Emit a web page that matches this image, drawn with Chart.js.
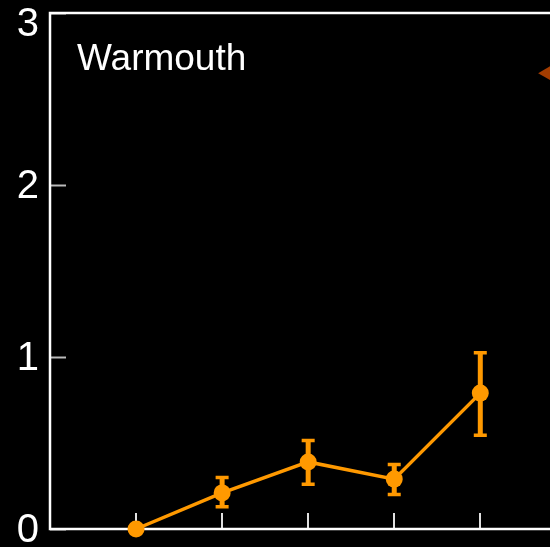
<!DOCTYPE html>
<html>
<head>
<meta charset="utf-8">
<script src="https://cdn.jsdelivr.net/npm/chart.js@4/dist/chart.umd.min.js"></script>
<style>
  html, body { margin: 0; padding: 0; background: #000; }
  #wrap { width: 550px; height: 547px; }
</style>
</head>
<body>
<div id="wrap"><canvas id="myChart" width="550" height="547"></canvas></div>
<script>
// Data
const xPositions = [1, 2, 3, 4, 5];
const means = [0, 0.21, 0.39, 0.29, 0.79];
const errLow = [0, 0.13, 0.26, 0.20, 0.545];
const errHigh = [0, 0.30, 0.515, 0.375, 1.025];
const yTicks = [0, 1, 2, 3];
const panelTitle = 'Warmouth';
// second series, only its marker shows at the right edge
const otherX = [5.8];
const otherY = [2.65];

const FONT = '"Liberation Sans", Arial, sans-serif';

// frame, inward ticks, tick labels, error bars and panel label
const decorations = {
    id: 'decorations',
    beforeDatasetsDraw(chart) {
        const { ctx, chartArea, scales } = chart;
        const x = scales.x, y = scales.y;
        ctx.save();

        // inward ticks on x axis
        ctx.strokeStyle = '#e0e0e0';
        ctx.lineWidth = 2;
        xPositions.forEach(v => {
            const px = Math.round(x.getPixelForValue(v));
            ctx.beginPath();
            ctx.moveTo(px, chartArea.bottom);
            ctx.lineTo(px, chartArea.bottom - 16);
            ctx.stroke();
        });
        // inward ticks on y axis
        ctx.strokeStyle = '#bbbbbb';
        yTicks.forEach(v => {
            const py = Math.round(y.getPixelForValue(v)) + 0.5;
            ctx.beginPath();
            ctx.moveTo(chartArea.left, py);
            ctx.lineTo(chartArea.left + 16, py);
            ctx.stroke();
        });

        // frame: left, bottom, top
        ctx.strokeStyle = '#ffffff';
        ctx.lineWidth = 2.5;
        ctx.beginPath();
        ctx.moveTo(chartArea.right + 5, chartArea.top);
        ctx.lineTo(chartArea.left, chartArea.top);
        ctx.lineTo(chartArea.left, chartArea.bottom);
        ctx.lineTo(chartArea.right + 5, chartArea.bottom);
        ctx.stroke();

        // y tick labels
        ctx.fillStyle = '#ffffff';
        ctx.font = '40px ' + FONT;
        ctx.textAlign = 'right';
        ctx.textBaseline = 'middle';
        yTicks.forEach(v => {
            let py = y.getPixelForValue(v) + 2;
            py = Math.max(py, 25);
            ctx.fillText(String(v), 39, py);
        });

        // panel label
        ctx.textAlign = 'left';
        ctx.textBaseline = 'alphabetic';
        ctx.font = '37px ' + FONT;
        ctx.fillText(panelTitle, 77, 70);

        // error bars
        ctx.strokeStyle = '#ff9900';
        for (let i = 0; i < xPositions.length; i++) {
            if (errHigh[i] - errLow[i] <= 0) continue;
            const px = x.getPixelForValue(xPositions[i]);
            const top = y.getPixelForValue(errHigh[i]);
            const bot = y.getPixelForValue(errLow[i]);
            ctx.lineWidth = 5;
            ctx.beginPath();
            ctx.moveTo(px, top);
            ctx.lineTo(px, bot);
            ctx.stroke();
            ctx.lineWidth = 3.5;
            ctx.beginPath();
            ctx.moveTo(px - 6.5, top);
            ctx.lineTo(px + 6.5, top);
            ctx.moveTo(px - 6.5, bot);
            ctx.lineTo(px + 6.5, bot);
            ctx.stroke();
        }
        ctx.restore();
    }
};

const data = {
    datasets: [{
        label: panelTitle,
        data: xPositions.map((v, i) => ({ x: v, y: means[i] })),
        borderColor: '#ff9900',
        backgroundColor: '#ff9900',
        borderWidth: 3.5,
        pointRadius: 8.5,
        pointHoverRadius: 8.5,
        pointBorderWidth: 0,
        showLine: true,
        clip: false
    }, {
        label: 'other',
        data: otherX.map((v, i) => ({ x: v, y: otherY[i] })),
        backgroundColor: '#a33c00',
        borderColor: '#a33c00',
        borderWidth: 0,
        pointStyle: 'triangle',
        rotation: -90,
        pointRadius: 11,
        showLine: false,
        clip: false
    }]
};

const config = {
    type: 'scatter',
    data: data,
    options: {
        responsive: false,
        animation: false,
        layout: { autoPadding: false, padding: { top: 13, right: 0, left: 0, bottom: 0 } },
        plugins: {
            legend: { display: false },
            tooltip: { enabled: false }
        },
        scales: {
            x: {
                type: 'linear',
                min: 0,
                max: 5.81,
                grid: { display: false },
                border: { display: false },
                ticks: { display: false },
                afterFit(scale) {
                    scale.height = 18;
                    scale.paddingLeft = 0;
                    scale.paddingRight = 0;
                }
            },
            y: {
                type: 'linear',
                min: 0,
                max: 3,
                grid: { display: false },
                border: { display: false },
                ticks: { display: false, stepSize: 1 },
                afterFit(scale) {
                    scale.width = 50;
                    scale.paddingTop = 0;
                    scale.paddingBottom = 0;
                }
            }
        }
    },
    plugins: [decorations]
};

const ctx = document.getElementById('myChart').getContext('2d');
const myChart = new Chart(ctx, config);
</script>
</body>
</html>
